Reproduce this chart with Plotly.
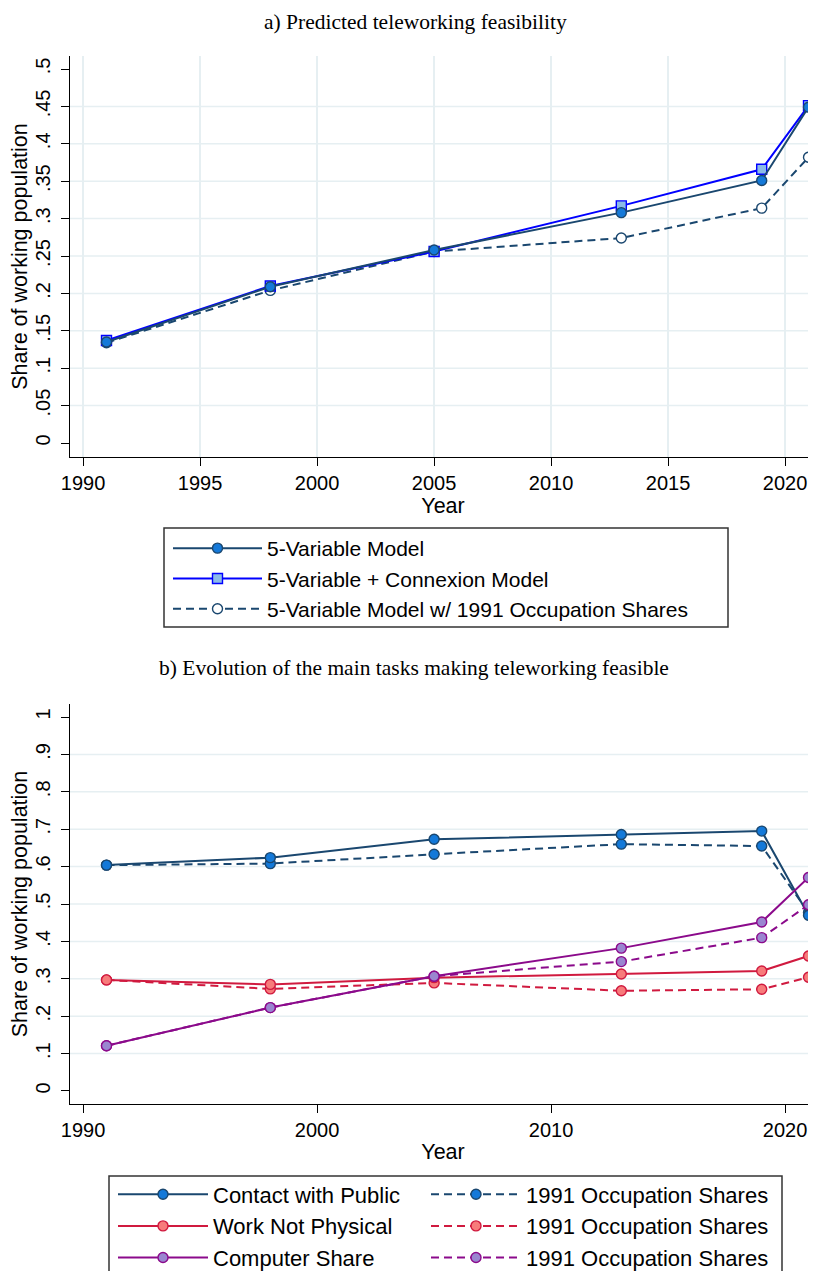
import plotly.graph_objects as go

# ---------------- data ----------------
years = [1991, 1998, 2005, 2013, 2019, 2021]

five_var = [0.135, 0.209, 0.258, 0.308, 0.351, 0.449]
five_var_connexion = [0.137, 0.210, 0.256, 0.317, 0.366, 0.451]
five_var_1991 = [0.134, 0.204, 0.256, 0.274, 0.314, 0.382]

contact = [0.604, 0.624, 0.673, 0.686, 0.695, 0.470]
contact_1991 = [0.604, 0.608, 0.633, 0.660, 0.655, 0.477]
not_physical = [0.297, 0.285, 0.303, 0.313, 0.321, 0.361]
not_physical_1991 = [0.297, 0.273, 0.289, 0.268, 0.272, 0.304]
computer = [0.121, 0.223, 0.307, 0.382, 0.452, 0.571]
computer_1991 = [0.121, 0.223, 0.307, 0.346, 0.410, 0.498]

top_x_ticks = [1990, 1995, 2000, 2005, 2010, 2015, 2020]
bottom_x_ticks = [1990, 2000, 2010, 2020]
top_y_ticks = [0, 0.05, 0.1, 0.15, 0.2, 0.25, 0.3, 0.35, 0.4, 0.45, 0.5]
top_y_labels = ["0", ".05", ".1", ".15", ".2", ".25", ".3", ".35", ".4", ".45", ".5"]
bottom_y_ticks = [0, 0.1, 0.2, 0.3, 0.4, 0.5, 0.6, 0.7, 0.8, 0.9, 1]
bottom_y_labels = ["0", ".1", ".2", ".3", ".4", ".5", ".6", ".7", ".8", ".9", "1"]

top_title = "a) Predicted teleworking feasibility"
bottom_title = "b) Evolution of the main tasks making teleworking feasible"
y_title = "Share of working population"
x_title = "Year"

# ---------------- styling ----------------
PAGE_OFF = 8            # default body margin of the page
W, H = 816 - PAGE_OFF, 1271 - PAGE_OFF
SANS = "Liberation Sans, Arial, sans-serif"
SERIF = "Liberation Serif, Times New Roman, serif"
NAVY = "#1a476f"
BRIGHT = "#1479d9"
BLUE = "#0000ff"
LTBLUE = "#8cbbe8"
CRIMSON = "#d01a3f"
SALMON = "#f77b7b"
PURPLE = "#8b0a8b"
LAVENDER = "#9a86d0"
GRID = "#e6eff2"
DASH = "8px,5px"


def px_x(p):
    return (p - PAGE_OFF) / W


def px_y(p):
    return 1 - (p - PAGE_OFF) / H


fig = go.Figure()


def add(x, y, name, lcolor, fill, mcolor, symbol, dash, xa, ya, legend, rank):
    fig.add_trace(go.Scatter(
        x=x, y=y, name=name, mode="lines+markers",
        line=dict(color=lcolor, width=2, dash=dash),
        marker=dict(symbol=symbol, size=10, color=fill,
                    line=dict(color=mcolor, width=1.4)),
        xaxis=xa, yaxis=ya, legend=legend, legendrank=rank,
    ))


# top panel (drawn back to front; legend order set by rank)
add(years, five_var_1991, "5-Variable Model w/ 1991 Occupation Shares", NAVY, "white", NAVY, "circle", DASH, "x", "y", "legend", 3)
add(years, five_var_connexion, "5-Variable + Connexion Model", BLUE, LTBLUE, BLUE, "square", "solid", "x", "y", "legend", 2)
add(years, five_var, "5-Variable Model", NAVY, BRIGHT, NAVY, "circle", "solid", "x", "y", "legend", 1)

# bottom panel
add(years, contact_1991, "1991 Occupation Shares", NAVY, BRIGHT, NAVY, "circle", DASH, "x2", "y2", "legend3", 1)
add(years, contact, "Contact with Public", NAVY, BRIGHT, NAVY, "circle", "solid", "x2", "y2", "legend2", 1)
add(years, not_physical_1991, "1991 Occupation Shares", CRIMSON, SALMON, CRIMSON, "circle", DASH, "x2", "y2", "legend3", 2)
add(years, not_physical, "Work Not Physical", CRIMSON, SALMON, CRIMSON, "circle", "solid", "x2", "y2", "legend2", 2)
add(years, computer_1991, "1991 Occupation Shares", PURPLE, LAVENDER, PURPLE, "circle", DASH, "x2", "y2", "legend3", 3)
add(years, computer, "Computer Share", PURPLE, LAVENDER, PURPLE, "circle", "solid", "x2", "y2", "legend2", 3)

x_dom = [px_x(70), 1]
top_dom = [px_y(457), px_y(56)]
bot_dom = [px_y(1104), px_y(704)]
x_range = [1989.44, 2021.32]
top_range = [-0.0187, 0.5174]
bot_range = [-0.0348, 1.0348]

tick_font = dict(family=SANS, size=20, color="black")
title_font = dict(family=SANS, size=21.5, color="black")

common_x = dict(range=x_range, domain=x_dom, showline=True, linecolor="black", linewidth=1.3,
                ticks="outside", ticklen=8, tickwidth=1.3, tickcolor="black",
                tickfont=tick_font, zeroline=False, automargin=False)
common_y = dict(ticks="outside", ticklen=8, tickwidth=1.3, tickcolor="black",
                tickfont=tick_font, tickangle=-90, zeroline=False, automargin=False,
                ticklabelstandoff=3, showline=True, linecolor="black", linewidth=1.3,
                showgrid=False,
                title=dict(text=y_title, font=title_font, standoff=3))

# horizontal grid lines only at the interior y ticks (as in the original)
grid_shapes = []
for yref, vals in (("y", top_y_ticks[1:-1]), ("y2", bottom_y_ticks[1:-1])):
    xref = "x domain" if yref == "y" else "x2 domain"
    for v in vals:
        grid_shapes.append(dict(type="line", xref=xref, yref=yref, x0=0, x1=1, y0=v, y1=v,
                                line=dict(color=GRID, width=1.5), layer="below"))

legend_common = dict(xanchor="left", yanchor="top", bgcolor="rgba(0,0,0,0)", borderwidth=0)

fig.update_layout(
    width=W, height=H,
    margin=dict(l=0, r=0, t=0, b=0, autoexpand=False),
    paper_bgcolor="white", plot_bgcolor="white",
    template="none",
    showlegend=True,
    xaxis=dict(**common_x, anchor="y", tickvals=top_x_ticks,
               showgrid=True, gridcolor=GRID, gridwidth=1.5,
               title=dict(text=x_title, font=title_font, standoff=2)),
    yaxis=dict(**common_y, domain=top_dom, range=top_range, anchor="x",
               tickvals=top_y_ticks, ticktext=top_y_labels),
    xaxis2=dict(**common_x, anchor="y2", tickvals=bottom_x_ticks, showgrid=False,
                ticklabelstandoff=0,
                title=dict(text=x_title, font=title_font, standoff=3)),
    yaxis2=dict(**common_y, domain=bot_dom, range=bot_range, anchor="x2",
                tickvals=bottom_y_ticks, ticktext=bottom_y_labels),
    legend=dict(**legend_common, x=px_x(168), y=px_y(528),
                font=dict(family=SANS, size=21, color="black"), itemwidth=89),
    legend2=dict(**legend_common, x=px_x(113), y=px_y(1173.5),
                 font=dict(family=SANS, size=22, color="black"), itemwidth=90),
    legend3=dict(**legend_common, x=px_x(426), y=px_y(1173.5),
                 font=dict(family=SANS, size=22, color="black"), itemwidth=90),
    annotations=[
        dict(text=top_title, x=px_x(415), y=px_y(22), xref="paper", yref="paper",
             xanchor="center", yanchor="middle", showarrow=False,
             font=dict(family=SERIF, size=21.5, color="black")),
        dict(text=bottom_title, x=px_x(414), y=px_y(668), xref="paper", yref="paper",
             xanchor="center", yanchor="middle", showarrow=False,
             font=dict(family=SERIF, size=21.5, color="black")),
    ],
    shapes=grid_shapes + [
        dict(type="rect", xref="paper", yref="paper",
             x0=px_x(164), x1=px_x(728), y0=px_y(627), y1=px_y(528),
             line=dict(color="#333333", width=1.5), fillcolor="rgba(0,0,0,0)", layer="above"),
        dict(type="rect", xref="paper", yref="paper",
             x0=px_x(109), x1=px_x(782), y0=px_y(1276), y1=px_y(1176),
             line=dict(color="#333333", width=1.5), fillcolor="rgba(0,0,0,0)", layer="above"),
    ],
)

fig.write_html("out.html")
